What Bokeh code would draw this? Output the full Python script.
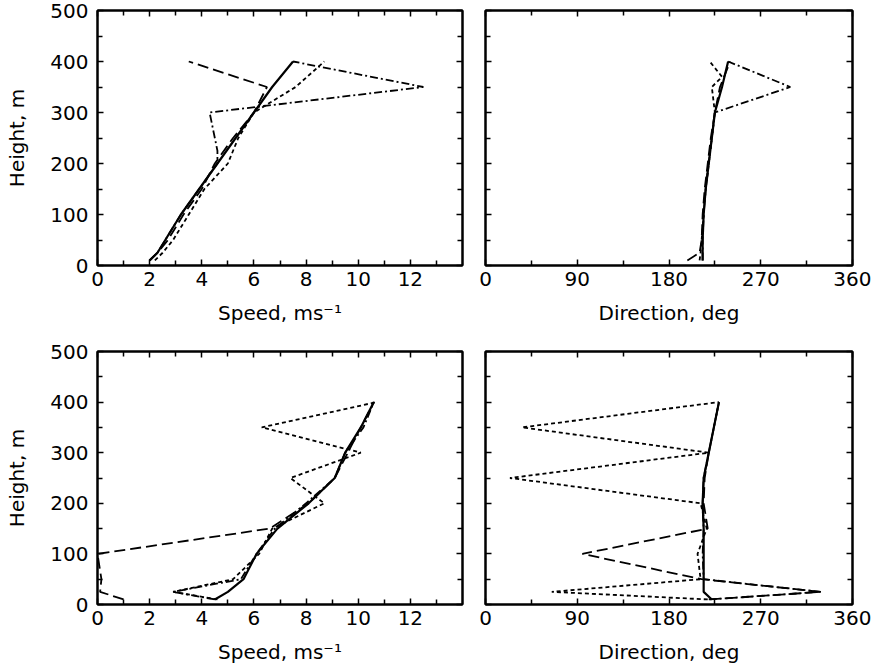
from bokeh.plotting import figure
from bokeh.layouts import column, row
from bokeh.models import (LinearAxis, Range1d, FixedTicker, ColumnDataSource,
                          CustomLabelingPolicy)
from bokeh.embed import file_html
from bokeh.resources import INLINE

# ---------------- data ----------------
HEIGHTS = [10, 25, 50, 100, 150, 200, 250, 300, 350, 400]

# Top row: speed (m/s)
top_speed_solid = [2.0, 2.3, 2.6, 3.2, 3.9, 4.6, 5.3, 6.0, 6.7, 7.5]
top_speed_short = [2.2, 2.5, 2.9, 3.5, 4.1, 5.0, 5.4, 6.0, 7.6, 8.7]
top_speed_long = [2.0, 2.3, 2.7, 3.3, 4.0, 4.5, 5.2, 6.0, 6.5, 3.5]
top_speed_dd_h = [10, 25, 50, 100, 150, 200, 225, 300, 350, 400]
top_speed_dd = [2.0, 2.3, 2.6, 3.2, 3.9, 4.6, 4.6, 4.3, 12.5, 7.5]

# Top row: direction (deg)
top_dir_solid = [213, 213, 213, 214, 216, 219, 222, 225, 232, 238]
top_dir_short_h = [10, 25, 50, 100, 150, 200, 250, 300, 350, 370, 400]
top_dir_short = [210, 211, 212, 214, 216, 219, 222, 225, 222, 232, 220]
top_dir_long = [198, 210, 212, 213, 215, 218, 221, 225, 230, 240]
top_dir_dd = [213, 213, 213, 214, 216, 219, 222, 225, 299, 238]

# Bottom row: speed (m/s)
bot_speed_solid = [4.5, 5.0, 5.6, 6.1, 6.9, 8.1, 9.1, 9.5, 10.1, 10.6]
bot_speed_short = [4.6, 2.9, 5.2, 6.2, 6.7, 8.7, 7.4, 10.1, 6.3, 10.7]
bot_speed_long = [1.0, 0.1, 0.15, 0.0, 6.6, 8.1, 9.1, 9.6, 10.1, 10.6]
bot_speed_dd = [4.5, 2.9, 5.5, 6.1, 6.8, 8.0, 9.1, 9.5, 10.2, 10.6]

# Bottom row: direction (deg)
bot_dir_solid = [222, 214, 214, 214, 214, 213, 214, 219, 224, 229]
bot_dir_short = [218, 65, 211, 208, 217, 211, 24, 219, 36, 229]
bot_dir_long = [220, 329, 212, 95, 218, 214, 215, 219, 224, 229]
bot_dir_dd = [219, 329, 214, 213, 214, 213, 214, 219, 224, 229]

SPEED_TICKS = [0, 2, 4, 6, 8, 10, 12]
SPEED_MINOR = [1, 3, 5, 7, 9, 11, 13]
DIR_TICKS = [0, 90, 180, 270, 360]
DIR_MINOR = [45, 135, 225, 315]
H_TICKS = [0, 100, 200, 300, 400, 500]
H_MINOR = [50, 150, 250, 350, 450]

FONT = "DejaVu Sans"

STYLES = {
    "solid": dict(line_dash="solid", line_width=2.2),
    "short": dict(line_dash="4 3", line_width=1.8),
    "long": dict(line_dash="11 5", line_width=1.8),
    "dd": dict(line_dash="8 3 2 3", line_width=1.8),
}


def style_axis(ax, ticks, minor, labels=True):
    ax.ticker = FixedTicker(ticks=ticks, minor_ticks=minor)
    ax.major_tick_in = 6
    ax.major_tick_out = 0
    ax.minor_tick_in = 5
    ax.minor_tick_out = 0
    ax.major_tick_line_width = 1.5
    ax.minor_tick_line_width = 1.5
    ax.major_tick_line_color = "black"
    ax.minor_tick_line_color = "black"
    ax.axis_line_width = 2
    ax.axis_line_color = "black"
    ax.major_label_text_font = FONT
    ax.major_label_text_color = "black"
    ax.axis_label_text_font = FONT
    ax.axis_label_text_font_style = "normal"
    ax.axis_label_text_font_size = "20px"
    ax.axis_label_text_color = "black"
    if labels:
        ax.major_label_text_font_size = "20px"
    else:
        # tick marks only: zero-size labels that are also filtered out
        ax.major_label_text_font_size = "0px"
        ax.major_label_standoff = 0
        ax.major_label_policy = CustomLabelingPolicy(code="return new Set()")


def make_panel(x_end, xticks, xminor, xlabel, first_col, top_row, series):
    fw = 365 if first_col else 367
    fh = 255 if top_row else 253
    p = figure(
        frame_width=fw, frame_height=fh,
        x_range=Range1d(0, x_end), y_range=Range1d(0, 500),
        output_backend="svg", toolbar_location=None,
        min_border_left=97 if first_col else 15,
        min_border_right=8 if first_col else 19,
        min_border_top=10 if top_row else 23,
        min_border_bottom=63 if top_row else 64,
        background_fill_color="white", border_fill_color="white",
    )
    p.grid.visible = False
    p.outline_line_color = "black"
    p.outline_line_width = 2

    style_axis(p.xaxis[0], xticks, xminor, labels=True)
    p.xaxis[0].axis_label = xlabel
    p.xaxis[0].major_label_standoff = 6
    p.xaxis[0].axis_label_standoff = 12

    style_axis(p.yaxis[0], H_TICKS, H_MINOR, labels=first_col)
    if first_col:
        p.yaxis[0].axis_label = "Height, m"
        p.yaxis[0].major_label_standoff = 9
        p.yaxis[0].axis_label_standoff = 18

    top_ax = LinearAxis()
    style_axis(top_ax, xticks, xminor, labels=False)
    p.add_layout(top_ax, "above")
    right_ax = LinearAxis()
    style_axis(right_ax, H_TICKS, H_MINOR, labels=False)
    p.add_layout(right_ax, "right")

    for kind, xs, hs in series:
        src = ColumnDataSource(dict(x=xs, y=hs))
        p.line("x", "y", source=src, line_color="black", **STYLES[kind])
    return p


p1 = make_panel(14, SPEED_TICKS, SPEED_MINOR, "Speed, ms\u207b\u00b9", True, True, [
    ("short", top_speed_short, HEIGHTS),
    ("long", top_speed_long, HEIGHTS),
    ("dd", top_speed_dd, top_speed_dd_h),
    ("solid", top_speed_solid, HEIGHTS),
])
p2 = make_panel(360, DIR_TICKS, DIR_MINOR, "Direction, deg", False, True, [
    ("short", top_dir_short, top_dir_short_h),
    ("long", top_dir_long, HEIGHTS),
    ("dd", top_dir_dd, HEIGHTS),
    ("solid", top_dir_solid, HEIGHTS),
])
p3 = make_panel(14, SPEED_TICKS, SPEED_MINOR, "Speed, ms\u207b\u00b9", True, False, [
    ("short", bot_speed_short, HEIGHTS),
    ("long", bot_speed_long, HEIGHTS),
    ("dd", bot_speed_dd, HEIGHTS),
    ("solid", bot_speed_solid, HEIGHTS),
])
p4 = make_panel(360, DIR_TICKS, DIR_MINOR, "Direction, deg", False, False, [
    ("short", bot_dir_short, HEIGHTS),
    ("long", bot_dir_long, HEIGHTS),
    ("dd", bot_dir_dd, HEIGHTS),
    ("solid", bot_dir_solid, HEIGHTS),
])

layout = column(row(p1, p2), row(p3, p4))
open("out.html", "w").write(file_html(layout, INLINE))
